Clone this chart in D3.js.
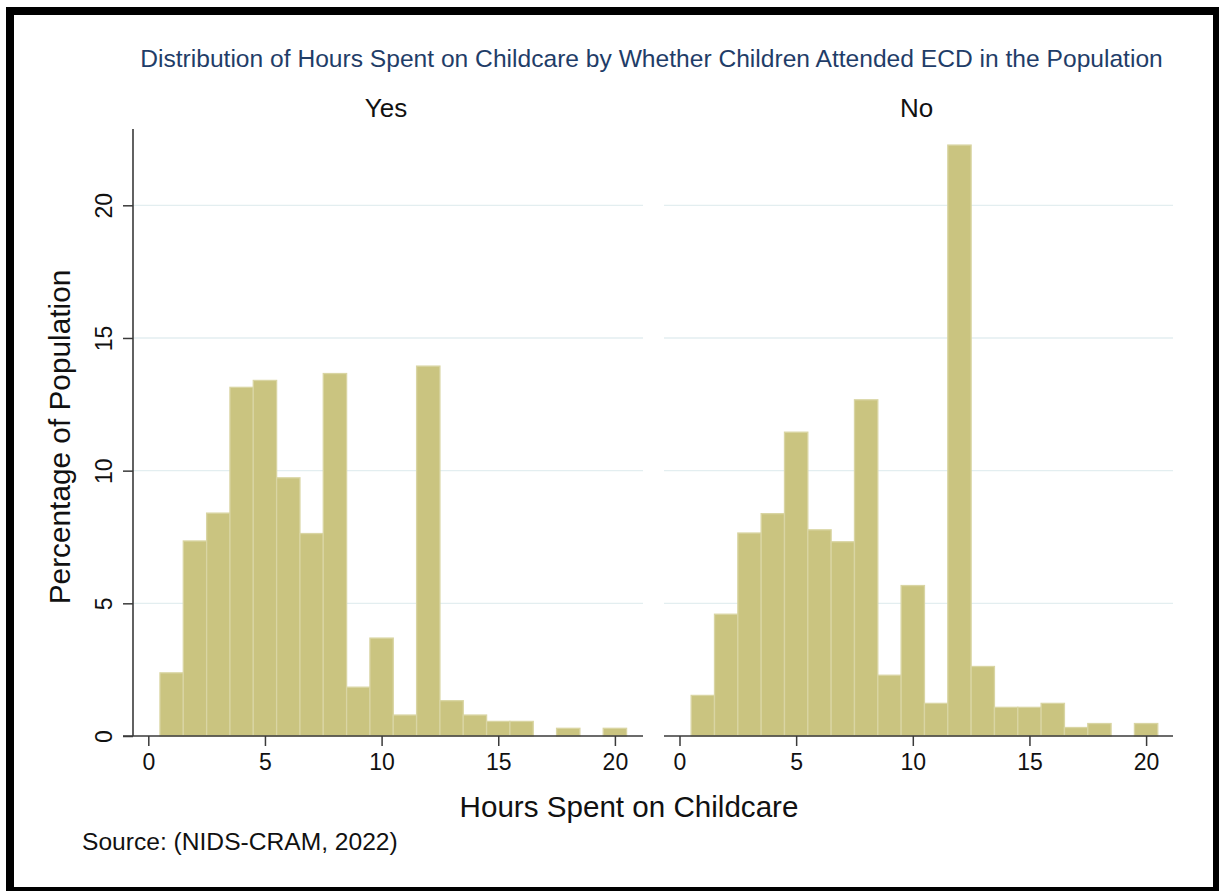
<!DOCTYPE html>
<html>
<head>
<meta charset="utf-8">
<script src="https://cdn.jsdelivr.net/npm/d3@7"></script>
<style>
  html, body { margin: 0; padding: 0; background: #fff; }
  svg { display: block; }
  text { font-family: "Liberation Sans", Arial, sans-serif; }
</style>
</head>
<body>
<svg id="chart" width="1219" height="891"></svg>
<script>
// ---- Data ----
const hours = [1,2,3,4,5,6,7,8,9,10,11,12,13,14,15,16,17,18,19,20];
const pctYes = [2.38,7.35,8.40,13.14,13.40,9.73,7.63,13.66,1.84,3.69,0.79,13.94,1.33,0.79,0.55,0.55,0,0.29,0,0.29];
const pctNo  = [1.53,4.59,7.65,8.38,11.45,7.77,7.32,12.67,2.29,5.67,1.23,22.27,2.62,1.08,1.08,1.23,0.32,0.47,0,0.47];
const panelNames = ["Yes", "No"];
const xTicks = [0, 5, 10, 15, 20];
const yTicks = [0, 5, 10, 15, 20];
const titleText = "Distribution of Hours Spent on Childcare by Whether Children Attended ECD in the Population";
const xTitle = "Hours Spent on Childcare";
const yTitle = "Percentage of Population";
const sourceText = "Source: (NIDS-CRAM, 2022)";

const svg = d3.select("#chart");

// Frame
svg.append("rect").attr("x", 6).attr("y", 7).attr("width", 1213).attr("height", 884).attr("fill", "#000");
svg.append("rect").attr("x", 14).attr("y", 15).attr("width", 1199).attr("height", 872).attr("fill", "#fff");

const barFill = "#cac480";
const barStroke = "#d9d5a3";
const gridColor = "#e3eef0";
const axisColor = "#3a3a3a";

const y = d3.scaleLinear().domain([0, 20]).range([736, 205.3]);

const panels = [
  { name: panelNames[0], values: pctYes, left: 133, right: 643, x0: 148.3, showY: true },
  { name: panelNames[1], values: pctNo,  left: 664, right: 1173, x0: 679.5, showY: false }
];
const unitPx = 23.33;

panels.forEach(p => {
  const x = d3.scaleLinear().domain([0, 20]).range([p.x0, p.x0 + 20 * unitPx]);
  const g = svg.append("g");

  // gridlines
  g.selectAll("line.grid").data(yTicks.filter(d => d > 0)).enter().append("line")
    .attr("x1", p.left).attr("x2", p.right)
    .attr("y1", d => y(d)).attr("y2", d => y(d))
    .attr("stroke", gridColor).attr("stroke-width", 1.3);

  // bars
  const data = hours.map((h, i) => ({ h, v: p.values[i] })).filter(d => d.v > 0);
  g.selectAll("rect.bar").data(data).enter().append("rect")
    .attr("x", d => x(d.h - 0.5))
    .attr("width", d => x(d.h + 0.5) - x(d.h - 0.5))
    .attr("y", d => y(d.v))
    .attr("height", d => y(0) - y(d.v))
    .attr("fill", barFill)
    .attr("stroke", barStroke)
    .attr("stroke-width", 1.3);

  // x axis
  const xAxis = d3.axisBottom(x).tickValues(xTicks).tickSize(10).tickPadding(8).tickFormat(d3.format("d"));
  const gx = g.append("g").attr("transform", `translate(0, ${y(0)})`).call(xAxis);
  gx.select(".domain").remove();
  gx.selectAll(".tick line").attr("stroke", axisColor).attr("stroke-width", 1.5);
  gx.selectAll(".tick text").attr("font-size", 23).attr("fill", "#111")
    .attr("font-family", "Liberation Sans, Arial, sans-serif");
  g.append("line")
    .attr("x1", p.showY ? p.left - 10 : p.left).attr("x2", p.right)
    .attr("y1", y(0)).attr("y2", y(0))
    .attr("stroke", axisColor).attr("stroke-width", 1.6);

  // y axis
  if (p.showY) {
    const yAxis = d3.axisLeft(y).tickValues(yTicks).tickSize(10).tickPadding(0).tickFormat(d3.format("d"));
    const gy = g.append("g").attr("transform", `translate(${p.left}, 0)`).call(yAxis);
    gy.select(".domain").remove();
    gy.selectAll(".tick line").attr("stroke", axisColor).attr("stroke-width", 1.5);
    gy.selectAll(".tick text")
      .attr("font-size", 23).attr("fill", "#111")
      .attr("font-family", "Liberation Sans, Arial, sans-serif")
      .attr("text-anchor", "middle")
      .attr("dy", null)
      .attr("x", null)
      .attr("transform", "translate(-21, 0) rotate(-90)");
    g.append("line")
      .attr("x1", p.left).attr("x2", p.left)
      .attr("y1", 129).attr("y2", y(0))
      .attr("stroke", axisColor).attr("stroke-width", 1.6);
  }

  // panel title
  g.append("text")
    .attr("x", (p.left + p.right) / 2 - 2)
    .attr("y", 117)
    .attr("text-anchor", "middle")
    .attr("font-size", 26)
    .attr("fill", "#111")
    .text(p.name);
});

// Main title
svg.append("text")
  .attr("x", 651.5).attr("y", 67)
  .attr("text-anchor", "middle")
  .attr("font-size", 24.6)
  .attr("fill", "#1f3d68")
  .text(titleText);

// X title
svg.append("text")
  .attr("x", 629).attr("y", 817)
  .attr("text-anchor", "middle")
  .attr("font-size", 29.6)
  .attr("fill", "#111")
  .text(xTitle);

// Y title
svg.append("text")
  .attr("transform", "translate(70, 437) rotate(-90)")
  .attr("text-anchor", "middle")
  .attr("font-size", 29.8)
  .attr("fill", "#111")
  .text(yTitle);

// Source
svg.append("text")
  .attr("x", 82).attr("y", 850)
  .attr("font-size", 24.6)
  .attr("fill", "#111")
  .text(sourceText);
</script>
</body>
</html>
